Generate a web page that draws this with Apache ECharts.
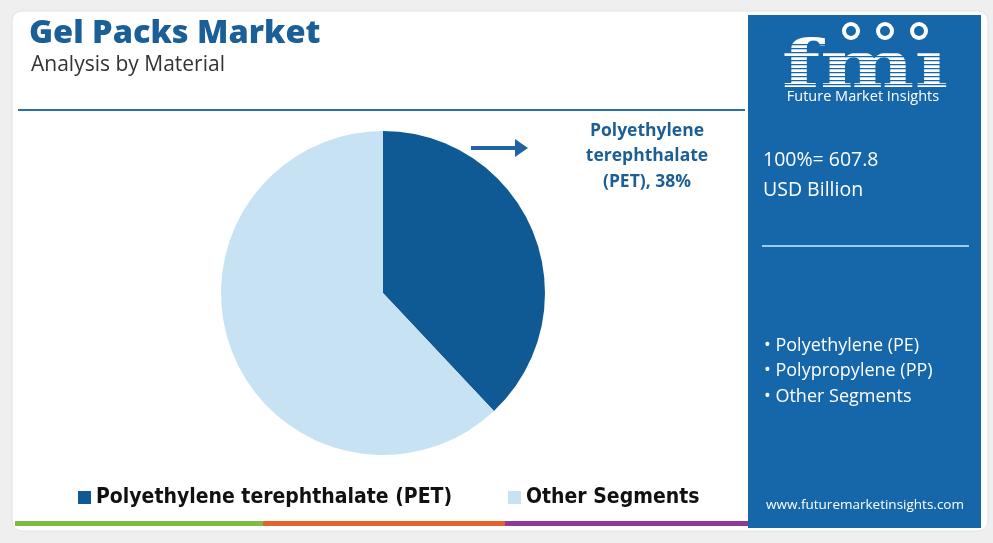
<!DOCTYPE html>
<html>
<head>
<meta charset="utf-8">
<script src="https://cdn.jsdelivr.net/npm/echarts@6/dist/echarts.min.js"></script>
<style>
html,body{margin:0;padding:0;background:#efefef;}
#c{width:993px;height:543px;}
</style>
</head>
<body>
<div id="c"></div>
<script>
const categories = ['Polyethylene terephthalate (PET)', 'Other Segments'];
const shares = [38, 62];
const sliceColors = ['#0f5a94', '#c7e2f3'];
const totalText = ['100%= 607.8', 'USD Billion'];
const otherSegments = ['Polyethylene (PE)', 'Polypropylene (PP)', 'Other Segments'];
const calloutText = ['Polyethylene', 'terephthalate', '(PET), 38%'];

const chart = echarts.init(document.getElementById('c'), null, {renderer: 'canvas'});
const panelBlue = '#1666aa';

const graphics = [
  {type: 'rect', shape: {x: 12, y: 11, width: 976, height: 520, r: 10}, style: {fill: '#ffffff', stroke: '#e2e2e2', lineWidth: 1}, z: -10},
  {type: 'rect', shape: {x: 748, y: 15, width: 233, height: 513}, style: {fill: panelBlue}, z: -5},
  {type: 'rect', shape: {x: 15, y: 521, width: 248, height: 5}, style: {fill: '#7dbb42'}},
  {type: 'rect', shape: {x: 263, y: 521, width: 242, height: 5}, style: {fill: '#e2622b'}},
  {type: 'rect', shape: {x: 505, y: 521, width: 243, height: 5}, style: {fill: '#8e3a96'}},
  {type: 'text', left: 29, top: 17, style: {text: 'Gel Packs Market', font: '800 32.5px "Open Sans", sans-serif', fill: '#1a5f98'}},
  {type: 'text', left: 31, top: 55, style: {text: 'Analysis by Material', font: '400 21px "Open Sans", sans-serif', fill: '#333333'}},
  {type: 'rect', shape: {x: 18, y: 109, width: 727, height: 2}, style: {fill: '#2a6fa8'}},
  {type: 'line', shape: {x1: 471, y1: 148, x2: 518, y2: 148}, style: {stroke: '#1f64a0', lineWidth: 4}},
  {type: 'polygon', shape: {points: [[515, 139], [528, 148], [515, 157]]}, style: {fill: '#1f64a0'}},
  {type: 'text', x: 647, y: 118, style: {text: calloutText.join('\n'), font: '700 17.5px "Open Sans", sans-serif', fill: '#1d5f94', align: 'center', lineHeight: 25.5}},
  {type: 'text', x: 865, y: 37, scaleX: 1.35, style: {text: 'fm\u0131', font: '900 66px "DejaVu Serif", serif', fill: '#ffffff', align: 'center'}},
  {type: 'text', x: 863, y: 89, style: {text: 'Future Market Insights', font: '400 14.5px "Open Sans", sans-serif', fill: '#ffffff', align: 'center'}},
  {type: 'text', left: 763, top: 145, style: {text: totalText.join('\n'), font: '400 19.5px "Open Sans", sans-serif', fill: '#ffffff', lineHeight: 30}},
  {type: 'rect', shape: {x: 762, y: 245, width: 207, height: 2}, style: {fill: '#9ccbeb'}},
  {type: 'text', left: 764, top: 333, style: {text: otherSegments.map(s => '\u2022 ' + s).join('\n'), font: '400 18px "Open Sans", sans-serif', fill: '#ffffff', lineHeight: 25.5}},
  {type: 'text', x: 865, y: 498, style: {text: 'www.futuremarketinsights.com', font: '400 13.5px "Open Sans", sans-serif', fill: '#ffffff', align: 'center'}}
];
// stripes across logo letters
for (let y = 44; y <= 88; y += 4) {
  graphics.push({type: 'rect', shape: {x: 780, y: y, width: 170, height: 1.3}, style: {fill: panelBlue}, z: 5});
}
// globes above the letters
[[851, 31], [885, 31], [919, 31]].forEach(p => {
  graphics.push({type: 'circle', shape: {cx: p[0], cy: p[1], r: 9}, style: {fill: '#ffffff'}, z: 6});
  graphics.push({type: 'circle', shape: {cx: p[0], cy: p[1], r: 5}, style: {fill: panelBlue}, z: 7});
});

const legendText = {fontSize: 21, fontWeight: 'bold', color: '#111111', fontFamily: '"DejaVu Sans Condensed", "Roboto", sans-serif'};
chart.setOption({
  animation: false,
  graphic: graphics,
  legend: [
    {data: [categories[0]], left: 73, top: 482, icon: 'rect', itemWidth: 13, itemHeight: 13, itemGap: 0, textStyle: legendText},
    {data: [categories[1]], left: 503, top: 482, icon: 'rect', itemWidth: 13, itemHeight: 13, itemGap: 0, textStyle: legendText}
  ],
  series: [{
    type: 'pie',
    center: [383, 293],
    radius: [0, 162],
    startAngle: 90,
    clockwise: true,
    label: {show: false},
    labelLine: {show: false},
    emphasis: {disabled: true},
    itemStyle: {borderWidth: 0},
    data: categories.map((c, i) => ({name: c, value: shares[i], itemStyle: {color: sliceColors[i]}}))
  }]
});
</script>
</body>
</html>
